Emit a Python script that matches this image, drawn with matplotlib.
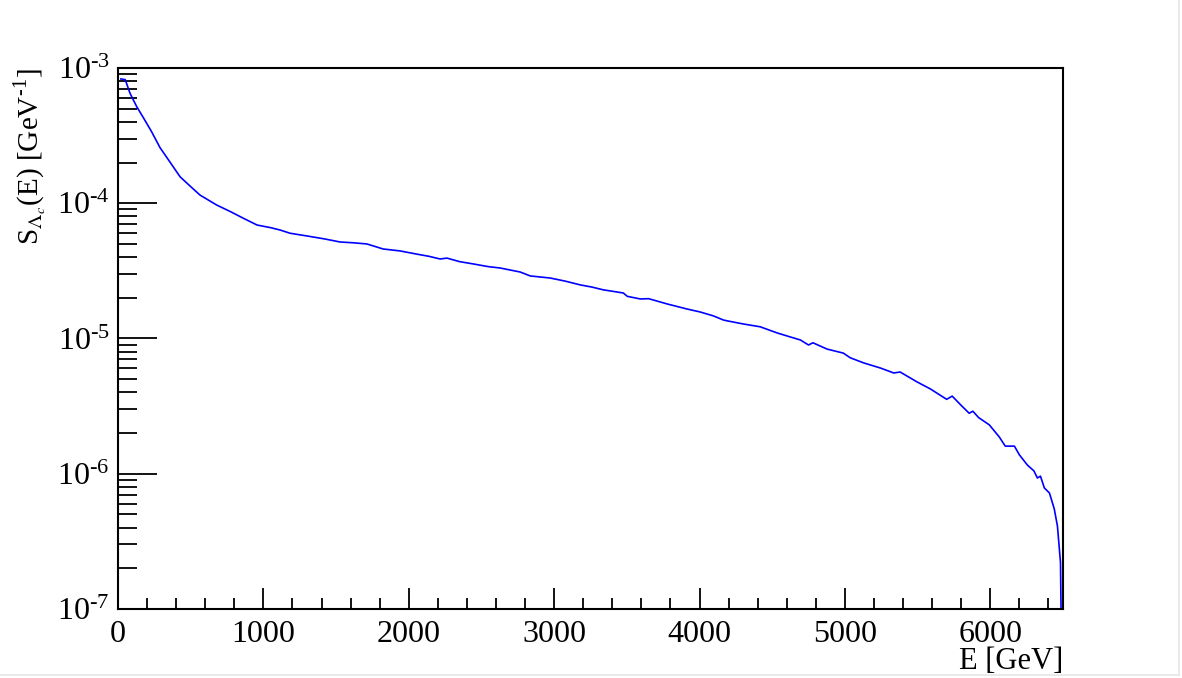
import numpy as np
import matplotlib
matplotlib.use("Agg")
import matplotlib.pyplot as plt
from matplotlib.ticker import MultipleLocator, LogLocator, FuncFormatter, NullFormatter
from matplotlib.lines import Line2D

plt.rcParams['font.family'] = ['Liberation Serif', 'DejaVu Serif']
plt.rcParams['mathtext.fontset'] = 'stix'

# spectrum (E in GeV, S in 1/GeV)
energy = [20, 50, 83, 128, 172, 230, 289, 360, 427, 496, 564, 679, 771, 862,
          957, 1050, 1115, 1184, 1300, 1420, 1528, 1620, 1712, 1824, 1941, 2058,
          2140, 2216, 2263, 2350, 2443, 2546, 2629, 2767, 2836, 2973, 3080, 3180,
          3260, 3338, 3476, 3503, 3593, 3650, 3778, 3916, 4005, 4095, 4164, 4191,
          4302, 4418, 4533, 4620, 4694, 4750, 4780, 4877, 4989, 5037, 5129, 5244,
          5336, 5380, 5497, 5589, 5700, 5738, 5800, 5855, 5880, 5920, 5993, 6062,
          6103, 6166, 6200, 6255, 6300, 6324, 6345, 6372, 6407, 6440, 6462, 6483,
          6490]
spectrum = [8.3e-4, 8.2e-4, 6.5e-4, 5.2e-4, 4.34e-4, 3.4e-4, 2.58e-4, 2.0e-4,
            1.57e-4, 1.34e-4, 1.15e-4, 9.7e-5, 8.7e-5, 7.75e-5,
            6.9e-5, 6.6e-5, 6.34e-5, 6.0e-5, 5.73e-5, 5.45e-5, 5.17e-5, 5.1e-5,
            5.0e-5, 4.59e-5, 4.44e-5, 4.2e-5, 4.05e-5, 3.87e-5, 3.93e-5, 3.7e-5,
            3.56e-5, 3.4e-5, 3.32e-5, 3.1e-5, 2.9e-5, 2.8e-5, 2.65e-5, 2.49e-5,
            2.4e-5, 2.29e-5, 2.17e-5, 2.05e-5, 1.96e-5, 1.97e-5, 1.8e-5, 1.65e-5,
            1.57e-5, 1.47e-5, 1.37e-5, 1.35e-5, 1.28e-5, 1.22e-5, 1.1e-5, 1.03e-5,
            9.75e-6, 8.95e-6, 9.3e-6, 8.35e-6, 7.8e-6, 7.2e-6, 6.6e-6, 6.05e-6,
            5.56e-6, 5.65e-6, 4.77e-6, 4.23e-6, 3.55e-6, 3.75e-6, 3.2e-6, 2.8e-6,
            2.9e-6, 2.6e-6, 2.3e-6, 1.87e-6, 1.6e-6, 1.6e-6, 1.38e-6, 1.16e-6,
            1.05e-6, 9.3e-7, 9.6e-7, 7.85e-7, 7.2e-7, 5.5e-7, 4.1e-7, 2.2e-7,
            5e-8]


def decade_label(v, pos):
    # ROOT style: short hyphen in the exponent
    return r'$\mathregular{10^{‐%d}}$' % round(-np.log10(v))


fig = plt.figure(figsize=(11.82, 6.78), dpi=100)
ax = fig.add_axes([0.0998, 0.1018, 0.7995, 0.7979])
ax.plot(energy, spectrum, color='#0000ff', lw=1.2)

ax.set_yscale('log')
ax.set_xlim(0, 6500)
ax.set_ylim(1e-7, 1e-3)

ax.xaxis.set_major_locator(MultipleLocator(1000))
ax.xaxis.set_minor_locator(MultipleLocator(200))
ax.yaxis.set_major_locator(LogLocator(base=10))
ax.yaxis.set_minor_locator(LogLocator(base=10, subs=np.arange(2, 10)))
ax.yaxis.set_major_formatter(FuncFormatter(decade_label))
ax.yaxis.set_minor_formatter(NullFormatter())

ax.tick_params(axis='both', which='both', direction='in', top=False, right=False,
               width=1.3, color='black')
ax.tick_params(axis='x', which='major', length=15, pad=8, labelsize=23)
ax.tick_params(axis='x', which='minor', length=8)
ax.tick_params(axis='y', which='major', length=28, pad=6, labelsize=23)
ax.tick_params(axis='y', which='minor', length=14)
for s in ax.spines.values():
    s.set_linewidth(1.5)

ax.set_xlabel('E [GeV]', fontsize=22, loc='right')
ax.xaxis.set_label_coords(1.0, -0.071)
ax.set_ylabel('S$_{\\Lambda_c}$(E) [GeV$^{\\mathregular{‐1}}$]', fontsize=21, loc='top')
ax.yaxis.set_label_coords(-0.074, 1.0)

# faint canvas edge on the right and bottom
fig.add_artist(Line2D([0.9975, 0.9975], [0.004, 1.0], transform=fig.transFigure,
                      color='#e6e6e6', lw=1.2))
fig.add_artist(Line2D([0.0, 0.9975], [0.004, 0.004], transform=fig.transFigure,
                      color='#e6e6e6', lw=1.2))

fig.savefig('out.png', dpi=100)
